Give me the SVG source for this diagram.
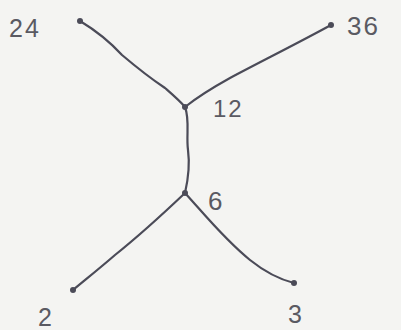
<svg xmlns="http://www.w3.org/2000/svg" width="401" height="330" viewBox="0 0 401 330">
<style>
.edge{fill:none;stroke:#4b4b58;stroke-width:2.2;stroke-linecap:round;stroke-linejoin:round}
.dot{fill:#4b4b58}
.lbl{font-family:"Liberation Sans","DejaVu Sans",sans-serif;font-size:25px;fill:#5a5a62;letter-spacing:2px}
</style>
<rect width="401" height="330" fill="#f4f4f2"/>
<g id="connectors">
<path class="edge" d="M80,21 C95,30 110,42 122,55 C135,66 150,78 165,88 C173,95 180,101 185,107"/>
<path class="edge" d="M331,25 C300,42 260,62 230,78 C212,88 195,99 185,107"/>
<path class="edge" d="M185,107 C190,120 186,135 188,150 C190,165 188,180 185,193"/>
<path class="edge" d="M185,193 C165,212 140,235 115,255 C100,268 85,280 73,290"/>
<path class="edge" d="M185,193 C205,215 225,240 250,260 C265,272 282,280 294,283"/>
</g>
<g id="n24"><circle class="dot" cx="80" cy="21" r="3"/><text class="lbl" x="9" y="37">24</text></g>
<g id="n36"><circle class="dot" cx="331" cy="25" r="3"/><text class="lbl" x="347" y="35" style="font-size:26px">36</text></g>
<g id="n12"><circle class="dot" cx="185" cy="107" r="3"/><text class="lbl" x="213" y="117" style="font-size:24px;letter-spacing:2px">12</text></g>
<g id="n6"><circle class="dot" cx="185" cy="193" r="3"/><text class="lbl" x="208" y="210" style="font-size:26px">6</text></g>
<g id="n2"><circle class="dot" cx="73" cy="290" r="3"/><text class="lbl" x="38" y="326" style="font-size:25px">2</text></g>
<g id="n3"><circle class="dot" cx="294" cy="283" r="3"/><text class="lbl" x="288" y="323" style="font-size:25px">3</text></g>
</svg>
